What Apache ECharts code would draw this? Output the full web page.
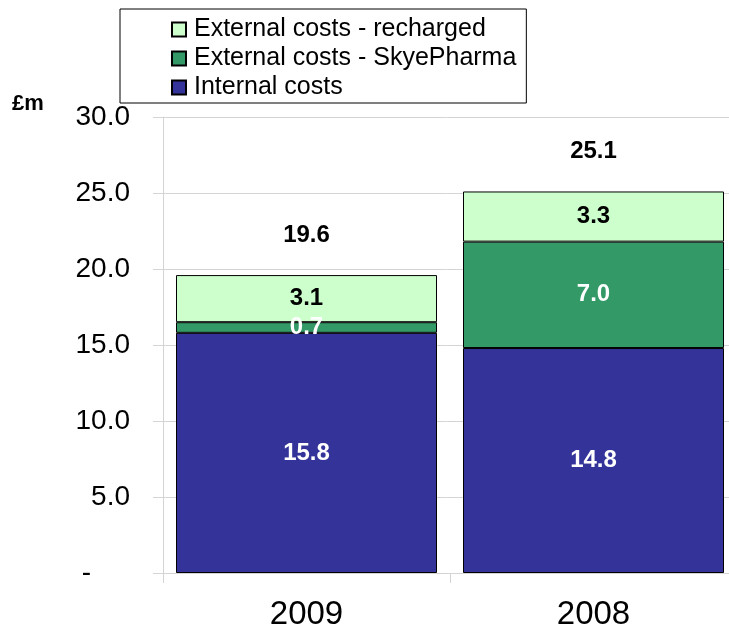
<!DOCTYPE html>
<html>
<head>
<meta charset="utf-8">
<script src="https://cdn.jsdelivr.net/npm/echarts@6/dist/echarts.min.js"></script>
<style>
  html, body { margin: 0; padding: 0; background: #fff; }
</style>
</head>
<body>
<div id="costChart" style="width: 729px; height: 636px;"></div>
<script>
  // chart values
  var years = ['2009', '2008'];
  var internalCosts = [15.8, 14.8];
  var skyePharmaCosts = [0.7, 7.0];
  var rechargedCosts = [3.1, 3.3];
  var totalCosts = [19.6, 25.1];
  var yTicks = [0, 5, 10, 15, 20, 25, 30];

  var gridLine = '#d4d4d4';
  var font = 'Liberation Sans, Arial, sans-serif';

  function segLabel(color) {
    return {
      show: true,
      position: 'inside',
      color: color,
      fontFamily: font,
      fontWeight: 'bold',
      fontSize: 24,
      formatter: function (p) { return p.value.toFixed(1); }
    };
  }

  var myChart = echarts.init(document.getElementById('costChart'));
  myChart.setOption({
    animation: false,
    grid: { left: 163, width: 574, top: 117, bottom: 63, outerBoundsMode: 'none', containLabel: false },
    legend: {
      orient: 'vertical',
      left: 120,
      top: 9,
      padding: [8, 10, 3, 51],
      itemGap: 4,
      itemWidth: 14,
      itemHeight: 14,
      borderColor: '#000',
      borderWidth: 1,
      icon: 'rect',
      textStyle: { fontFamily: font, fontSize: 25, color: '#000', padding: [0, 0, 0, 3] },
      data: ['External costs - recharged', 'External costs - SkyePharma', 'Internal costs']
    },
    graphic: [{
      type: 'text', left: 12, top: 93,
      style: { text: '£m', font: 'bold 22px ' + font, fill: '#000' }
    }],
    xAxis: {
      type: 'category',
      data: years,
      axisLine: { lineStyle: { color: gridLine } },
      axisTick: { show: true, length: 10, lineStyle: { color: gridLine } },
      axisLabel: { margin: 25, fontFamily: font, fontSize: 33, color: '#000' }
    },
    yAxis: {
      type: 'value',
      min: yTicks[0],
      max: yTicks[yTicks.length - 1],
      interval: 5,
      axisLine: { show: true, lineStyle: { color: gridLine } },
      axisTick: { show: true, length: 10, lineStyle: { color: gridLine } },
      splitLine: { lineStyle: { color: gridLine } },
      axisLabel: {
        margin: 33, fontFamily: font, fontSize: 28, color: '#000',
        formatter: function (v) { return v === 0 ? '-     ' : v.toFixed(1); }
      }
    },
    series: [
      {
        name: 'Internal costs', type: 'bar', stack: 'cost', barWidth: 261,
        data: internalCosts,
        itemStyle: { color: '#333399', borderColor: '#000', borderWidth: 1 },
        label: segLabel('#fff')
      },
      {
        name: 'External costs - SkyePharma', type: 'bar', stack: 'cost',
        data: skyePharmaCosts,
        itemStyle: { color: '#339966', borderColor: '#000', borderWidth: 1 },
        label: segLabel('#fff')
      },
      {
        name: 'External costs - recharged', type: 'bar', stack: 'cost',
        data: rechargedCosts,
        itemStyle: { color: '#CCFFCC', borderColor: '#000', borderWidth: 1 },
        label: segLabel('#000')
      },
      {
        // totals above the stacks
        name: 'Total', type: 'bar', barGap: '-100%', barWidth: 261,
        data: totalCosts, silent: true, z: 1,
        itemStyle: { color: 'transparent' },
        label: {
          show: true, position: 'top', distance: 28,
          color: '#000', fontFamily: font, fontWeight: 'bold', fontSize: 24,
          formatter: function (p) { return p.value.toFixed(1); }
        }
      }
    ]
  });
</script>
</body>
</html>
